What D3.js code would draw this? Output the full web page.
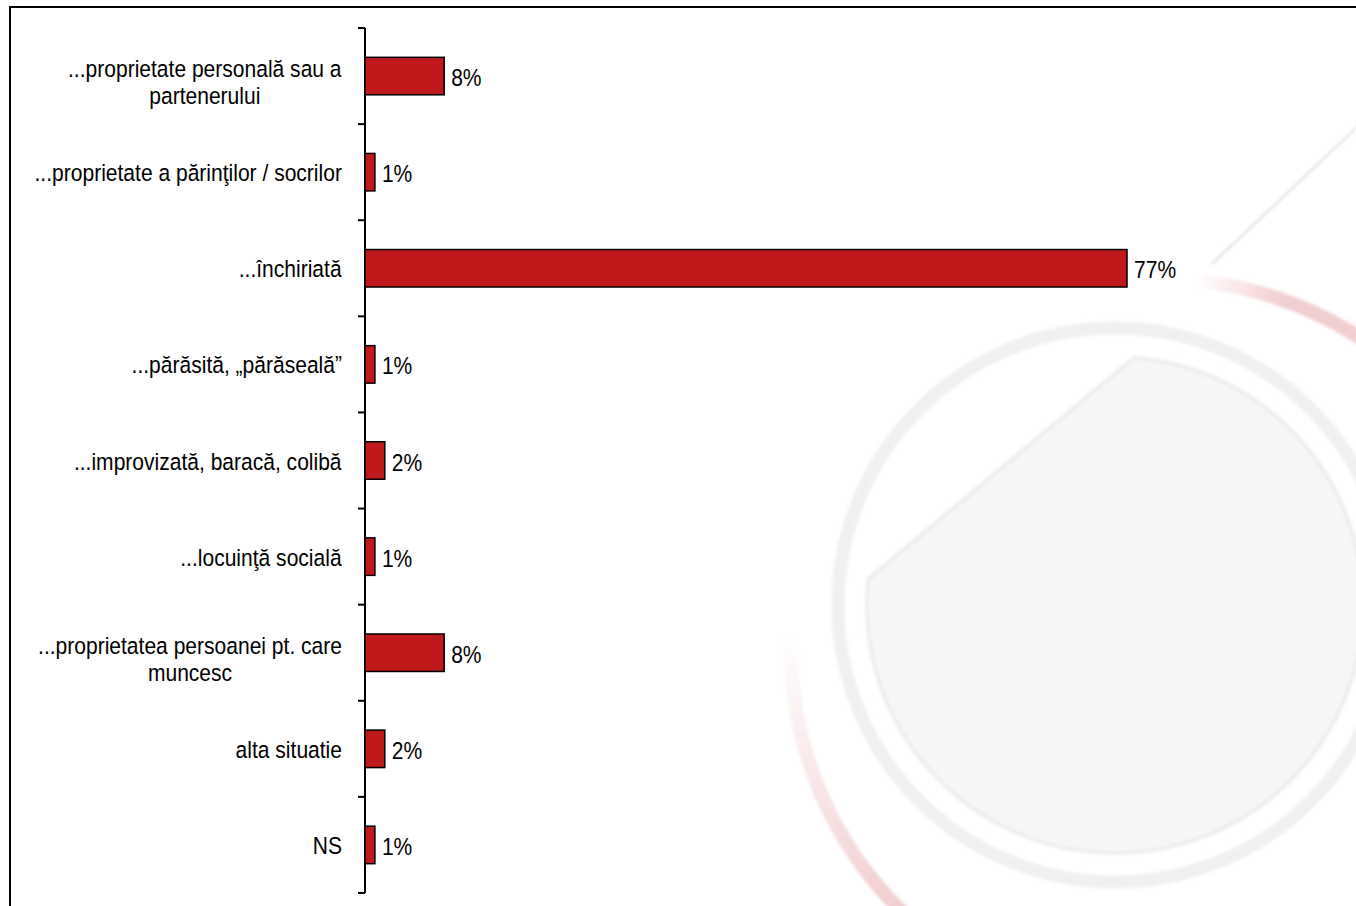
<!DOCTYPE html>
<html>
<head>
<meta charset="utf-8">
<script src="https://cdn.jsdelivr.net/npm/d3@7"></script>
<style>
  body { margin: 0; background: #ffffff; }
  svg { display: block; }
  text { font-family: "Liberation Sans", Arial, sans-serif; fill: #000; }
</style>
</head>
<body>
<svg id="chart" width="1356" height="906"></svg>
<script>
// Survey answers: type of dwelling ("locuinţă ...")
const categories = [
  "...proprietate personală sau a\npartenerului",
  "...proprietate a părinţilor / socrilor",
  "...închiriată",
  "...părăsită, „părăseală”",
  "...improvizată, baracă, colibă",
  "...locuinţă socială",
  "...proprietatea persoanei pt. care\nmuncesc",
  "alta situatie",
  "NS"
];
const values = [8, 1, 77, 1, 2, 1, 8, 2, 1];
const valueLabels = values.map(v => v + "%");

(function draw() {
  const W = 1356, H = 906;
  const svg = d3.select("#chart");
  const defs = svg.append("defs");

  svg.append("rect").attr("width", W).attr("height", H).attr("fill", "#fff");

  // ---------- faded logo in the background ----------
  defs.append("filter").attr("id", "soft")
    .attr("x", "-10%").attr("y", "-10%").attr("width", "120%").attr("height", "120%")
    .append("feGaussianBlur").attr("stdDeviation", 1.6);

  const logo = svg.append("g").attr("class", "logo");
  const C = { x: 1115, y: 605 };

  // outer grey ring
  logo.append("circle")
    .attr("cx", C.x).attr("cy", C.y).attr("r", 277)
    .attr("fill", "none").attr("stroke", "#f0f0f0").attr("stroke-width", 13)
    .attr("filter", "url(#soft)");

  // inner disk with the upper-left corner cut off along a diagonal
  const R = 248;
  const A = { x: 867, y: 580 }, B = { x: 1135, y: 357 };
  const dx = B.x - A.x, dy = B.y - A.y;
  const fx = A.x - C.x, fy = A.y - C.y;
  const qa = dx * dx + dy * dy, qb = 2 * (fx * dx + fy * dy), qc = fx * fx + fy * fy - R * R;
  const disc = Math.sqrt(qb * qb - 4 * qa * qc);
  const t1 = (-qb - disc) / (2 * qa), t2 = (-qb + disc) / (2 * qa);
  const p1 = { x: A.x + t1 * dx, y: A.y + t1 * dy };
  const p2 = { x: A.x + t2 * dx, y: A.y + t2 * dy };
  logo.append("path")
    .attr("d", `M${p1.x},${p1.y}L${p2.x},${p2.y}A${R},${R} 0 1 1 ${p1.x},${p1.y}Z`)
    .attr("fill", "#f6f6f6").attr("stroke", "#ededed").attr("stroke-width", 4)
    .attr("filter", "url(#soft)");

  // pink swoosh around the logo, fading out at both ends
  const swoosh = { x: 1160, y: 648, r0: 362, r1: 376 };
  const arcGen = d3.arc().innerRadius(swoosh.r0).outerRadius(swoosh.r1);
  const startDeg = 5, endDeg = 272;
  const fadeIn = d3.scaleLinear().domain([startDeg, startDeg + 14]).range([0, 0.85]).clamp(true);
  const fadeOut = d3.scaleLinear().domain([225, endDeg]).range([0.85, 0]).clamp(true);
  const swooshG = logo.append("g")
    .attr("transform", `translate(${swoosh.x},${swoosh.y})`)
    .attr("filter", "url(#soft)");
  for (let d = startDeg; d < endDeg; d += 1) {
    swooshG.append("path")
      .attr("d", arcGen({ startAngle: d * Math.PI / 180, endAngle: (d + 1.05) * Math.PI / 180 }))
      .attr("fill", "#f0c6c9")
      .attr("opacity", Math.min(fadeIn(d), fadeOut(d)));
  }

  // thin grey diagonal stroke
  logo.append("line")
    .attr("x1", 1212).attr("y1", 264).attr("x2", 1390).attr("y2", 96)
    .attr("stroke", "#cfcfcf").attr("stroke-width", 1.4)
    .attr("filter", "url(#soft)");

  // ---------- frame ----------
  svg.append("rect")
    .attr("x", 10).attr("y", 7).attr("width", W + 40).attr("height", H + 40)
    .attr("fill", "none").attr("stroke", "#000").attr("stroke-width", 2);

  // ---------- scales ----------
  const axisX = 365, plotTop = 28, plotBottom = 893;
  const x = d3.scaleLinear().domain([0, 77]).range([axisX, 1127]);
  const yBand = d3.scaleBand().domain(categories).range([plotTop, plotBottom])
    .paddingInner(0.61).paddingOuter(0.305);
  const yOuter = d3.scaleBand().domain(categories).range([plotTop, plotBottom]).padding(0);

  // ---------- category axis ----------
  const axisG = svg.append("g").attr("transform", `translate(${axisX},0)`);
  axisG.call(d3.axisLeft(yOuter).tickSize(0).tickFormat(""));
  axisG.select(".domain").attr("stroke", "#000").attr("stroke-width", 2)
    .attr("d", `M0,${plotTop}V${plotBottom}`);
  axisG.selectAll(".tick").remove();
  const boundaries = categories.map(c => yOuter(c)).concat([plotBottom]);
  axisG.selectAll("line.bound").data(boundaries).join("line")
    .attr("class", "bound")
    .attr("x1", -7).attr("x2", 0)
    .attr("y1", d => d).attr("y2", d => d)
    .attr("stroke", "#000").attr("stroke-width", 2);

  // ---------- bars ----------
  const data = categories.map((c, i) => ({ cat: c, value: values[i], label: valueLabels[i] }));
  svg.append("g").selectAll("rect").data(data).join("rect")
    .attr("x", x(0))
    .attr("y", d => yBand(d.cat))
    .attr("width", d => x(d.value) - x(0))
    .attr("height", yBand.bandwidth())
    .attr("fill", "#c0191c")
    .attr("stroke", "#000").attr("stroke-width", 1.5);

  const FS = 23.5, SX = 0.895;

  // value labels
  svg.append("g").selectAll("text").data(data).join("text")
    .attr("transform", d => `translate(${x(d.value) + 7},${yBand(d.cat) + yBand.bandwidth() / 2 + 10}) scale(${SX},1)`)
    .attr("font-size", FS)
    .text(d => d.label);

  // category labels: right-aligned block, wrapped lines centred on each other
  const labelRight = 342;
  const labelG = svg.append("g");
  data.forEach(d => {
    const lines = d.cat.split("\n");
    const cy = yBand(d.cat) + yBand.bandwidth() / 2;
    const t = labelG.append("text").attr("font-size", FS).attr("text-anchor", "middle");
    lines.forEach((ln, i) => {
      t.append("tspan").attr("x", 0).attr("y", lines.length === 1 ? 9 : 1 + i * 27).text(ln);
    });
    const w = t.node().getBBox().width * SX;
    t.attr("transform", `translate(${labelRight - w / 2},${cy}) scale(${SX},1)`);
  });
})();
</script>
</body>
</html>
